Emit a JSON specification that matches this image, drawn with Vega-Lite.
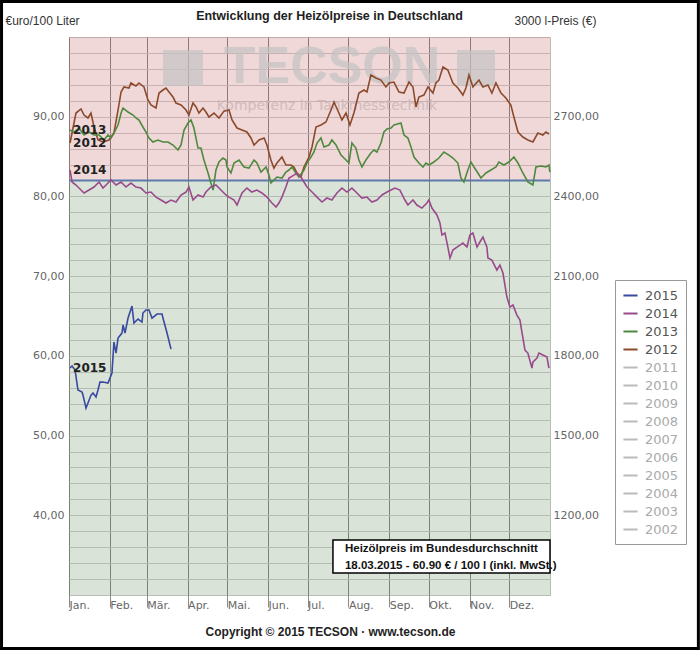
{
  "$schema": "https://vega.github.io/schema/vega-lite/v6.json",
  "width": 481,
  "height": 558,
  "autosize": {"type": "none"},
  "padding": {"left": 69, "top": 37, "right": 150, "bottom": 55},
  "background": "#ffffff",
  "config": {
    "view": {"stroke": "#bbbbbb", "strokeWidth": 1},
    "axis": {"labelFont": "DejaVu Sans", "labelFontSize": 11, "labelColor": "#666666", "domain": false}
  },
  "title": {
    "text": "Entwicklung der Heizölpreise in Deutschland",
    "font": "Liberation Sans", "fontSize": 12.5, "fontWeight": "bold", "color": "#222222",
    "anchor": "middle", "frame": "group", "dx": 20, "offset": -22
  },
  "datasets": {
    "one": [{}],
    "lines": [
      {"year":"2012","day":0.8,"price":86.70},{"year":"2012","day":5.3,"price":90.46},{"year":"2012","day":9.1,"price":90.97},{"year":"2012","day":11.4,"price":90.21},{"year":"2012","day":14.4,"price":89.84},{"year":"2012","day":16.7,"price":90.46},{"year":"2012","day":19.0,"price":88.71},{"year":"2012","day":22.0,"price":87.08},{"year":"2012","day":25.8,"price":86.83},{"year":"2012","day":30.3,"price":87.08},{"year":"2012","day":34.1,"price":87.95},{"year":"2012","day":37.2,"price":90.84},{"year":"2012","day":39.5,"price":93.10},{"year":"2012","day":41.7,"price":93.73},{"year":"2012","day":45.5,"price":93.60},{"year":"2012","day":47.0,"price":94.23},{"year":"2012","day":50.8,"price":93.85},{"year":"2012","day":53.1,"price":94.23},{"year":"2012","day":56.9,"price":93.73},{"year":"2012","day":59.9,"price":92.10},{"year":"2012","day":62.2,"price":91.47},{"year":"2012","day":66.0,"price":91.09},{"year":"2012","day":68.3,"price":92.97},{"year":"2012","day":71.3,"price":93.35},{"year":"2012","day":73.6,"price":93.60},{"year":"2012","day":75.9,"price":93.10},{"year":"2012","day":78.9,"price":92.47},{"year":"2012","day":81.2,"price":91.72},{"year":"2012","day":85.0,"price":91.47},{"year":"2012","day":88.8,"price":90.84},{"year":"2012","day":91.0,"price":90.21},{"year":"2012","day":94.1,"price":91.72},{"year":"2012","day":96.4,"price":91.22},{"year":"2012","day":98.6,"price":90.46},{"year":"2012","day":101.7,"price":91.09},{"year":"2012","day":103.9,"price":90.59},{"year":"2012","day":106.2,"price":89.96},{"year":"2012","day":110.0,"price":90.46},{"year":"2012","day":113.8,"price":89.84},{"year":"2012","day":117.6,"price":90.70},{"year":"2012","day":121.4,"price":90.84},{"year":"2012","day":123.7,"price":89.59},{"year":"2012","day":127.5,"price":88.58},{"year":"2012","day":131.3,"price":88.33},{"year":"2012","day":135.0,"price":88.08},{"year":"2012","day":138.1,"price":87.33},{"year":"2012","day":140.4,"price":86.45},{"year":"2012","day":144.2,"price":87.08},{"year":"2012","day":148.0,"price":87.33},{"year":"2012","day":150.2,"price":86.45},{"year":"2012","day":153.2,"price":84.57},{"year":"2012","day":155.5,"price":83.56},{"year":"2012","day":157.8,"price":84.19},{"year":"2012","day":161.6,"price":84.94},{"year":"2012","day":164.6,"price":83.94},{"year":"2012","day":168.4,"price":83.94},{"year":"2012","day":170.7,"price":83.69},{"year":"2012","day":173.0,"price":82.94},{"year":"2012","day":176.0,"price":82.43},{"year":"2012","day":178.3,"price":83.69},{"year":"2012","day":182.1,"price":84.94},{"year":"2012","day":184.4,"price":86.20},{"year":"2012","day":187.4,"price":88.71},{"year":"2012","day":191.2,"price":88.96},{"year":"2012","day":195.0,"price":89.33},{"year":"2012","day":198.8,"price":90.84},{"year":"2012","day":201.1,"price":91.84},{"year":"2012","day":204.8,"price":90.46},{"year":"2012","day":207.1,"price":89.59},{"year":"2012","day":210.2,"price":90.46},{"year":"2012","day":213.2,"price":88.96},{"year":"2012","day":216.2,"price":90.46},{"year":"2012","day":220.0,"price":92.97},{"year":"2012","day":223.8,"price":93.35},{"year":"2012","day":226.1,"price":93.10},{"year":"2012","day":229.1,"price":95.23},{"year":"2012","day":232.9,"price":94.86},{"year":"2012","day":236.7,"price":94.60},{"year":"2012","day":240.5,"price":93.73},{"year":"2012","day":242.8,"price":94.23},{"year":"2012","day":246.6,"price":94.35},{"year":"2012","day":250.4,"price":93.10},{"year":"2012","day":254.2,"price":92.97},{"year":"2012","day":258.0,"price":94.35},{"year":"2012","day":261.0,"price":93.73},{"year":"2012","day":263.3,"price":91.22},{"year":"2012","day":265.5,"price":92.47},{"year":"2012","day":269.3,"price":92.72},{"year":"2012","day":272.4,"price":93.73},{"year":"2012","day":276.2,"price":92.97},{"year":"2012","day":278.4,"price":94.23},{"year":"2012","day":280.7,"price":94.60},{"year":"2012","day":283.8,"price":96.24},{"year":"2012","day":287.5,"price":95.86},{"year":"2012","day":291.3,"price":94.23},{"year":"2012","day":295.1,"price":93.60},{"year":"2012","day":298.9,"price":92.72},{"year":"2012","day":301.2,"price":93.60},{"year":"2012","day":303.5,"price":95.23},{"year":"2012","day":306.5,"price":93.73},{"year":"2012","day":311.1,"price":94.60},{"year":"2012","day":314.1,"price":93.73},{"year":"2012","day":317.9,"price":93.98},{"year":"2012","day":320.9,"price":92.97},{"year":"2012","day":324.0,"price":94.23},{"year":"2012","day":327.8,"price":92.97},{"year":"2012","day":331.5,"price":92.35},{"year":"2012","day":335.3,"price":91.47},{"year":"2012","day":337.6,"price":89.96},{"year":"2012","day":340.7,"price":88.08},{"year":"2012","day":344.4,"price":87.45},{"year":"2012","day":348.2,"price":87.08},{"year":"2012","day":352.0,"price":86.83},{"year":"2012","day":355.8,"price":87.95},{"year":"2012","day":359.6,"price":87.70},{"year":"2012","day":361.9,"price":88.08},{"year":"2012","day":364.2,"price":87.83},
      {"year":"2013","day":0.8,"price":88.33},{"year":"2013","day":3.8,"price":88.08},{"year":"2013","day":7.6,"price":88.58},{"year":"2013","day":11.4,"price":87.70},{"year":"2013","day":15.2,"price":88.08},{"year":"2013","day":19.0,"price":87.70},{"year":"2013","day":22.8,"price":87.70},{"year":"2013","day":26.6,"price":87.08},{"year":"2013","day":29.6,"price":87.70},{"year":"2013","day":31.9,"price":87.33},{"year":"2013","day":34.1,"price":87.95},{"year":"2013","day":37.2,"price":88.96},{"year":"2013","day":39.5,"price":90.46},{"year":"2013","day":41.0,"price":91.09},{"year":"2013","day":44.8,"price":90.59},{"year":"2013","day":48.6,"price":90.21},{"year":"2013","day":50.8,"price":89.84},{"year":"2013","day":53.1,"price":89.59},{"year":"2013","day":56.1,"price":88.71},{"year":"2013","day":58.4,"price":88.08},{"year":"2013","day":60.7,"price":87.33},{"year":"2013","day":63.7,"price":86.83},{"year":"2013","day":67.5,"price":87.08},{"year":"2013","day":71.3,"price":86.83},{"year":"2013","day":75.1,"price":86.83},{"year":"2013","day":78.9,"price":86.45},{"year":"2013","day":82.7,"price":85.82},{"year":"2013","day":85.0,"price":86.45},{"year":"2013","day":87.3,"price":88.33},{"year":"2013","day":90.3,"price":89.21},{"year":"2013","day":92.6,"price":89.59},{"year":"2013","day":94.8,"price":88.58},{"year":"2013","day":97.9,"price":86.07},{"year":"2013","day":100.1,"price":86.07},{"year":"2013","day":102.4,"price":84.57},{"year":"2013","day":105.5,"price":82.94},{"year":"2013","day":107.7,"price":81.68},{"year":"2013","day":109.3,"price":80.80},{"year":"2013","day":111.5,"price":83.31},{"year":"2013","day":113.8,"price":84.32},{"year":"2013","day":116.8,"price":84.82},{"year":"2013","day":119.1,"price":84.57},{"year":"2013","day":119.9,"price":83.69},{"year":"2013","day":122.9,"price":82.94},{"year":"2013","day":125.2,"price":84.19},{"year":"2013","day":129.0,"price":84.57},{"year":"2013","day":132.8,"price":83.69},{"year":"2013","day":136.6,"price":83.56},{"year":"2013","day":140.4,"price":84.57},{"year":"2013","day":142.6,"price":84.19},{"year":"2013","day":145.7,"price":83.06},{"year":"2013","day":149.5,"price":83.69},{"year":"2013","day":151.7,"price":82.68},{"year":"2013","day":153.2,"price":81.68},{"year":"2013","day":155.5,"price":82.06},{"year":"2013","day":157.8,"price":82.43},{"year":"2013","day":161.6,"price":82.31},{"year":"2013","day":164.6,"price":83.06},{"year":"2013","day":166.9,"price":83.31},{"year":"2013","day":169.2,"price":83.69},{"year":"2013","day":172.2,"price":82.94},{"year":"2013","day":174.5,"price":82.43},{"year":"2013","day":178.3,"price":83.31},{"year":"2013","day":180.6,"price":84.19},{"year":"2013","day":183.6,"price":84.94},{"year":"2013","day":185.9,"price":85.57},{"year":"2013","day":188.2,"price":86.70},{"year":"2013","day":191.2,"price":87.33},{"year":"2013","day":193.5,"price":86.20},{"year":"2013","day":197.3,"price":86.45},{"year":"2013","day":199.5,"price":87.08},{"year":"2013","day":202.6,"price":86.45},{"year":"2013","day":206.4,"price":85.19},{"year":"2013","day":210.2,"price":84.57},{"year":"2013","day":212.4,"price":84.19},{"year":"2013","day":214.7,"price":86.70},{"year":"2013","day":217.7,"price":86.07},{"year":"2013","day":220.0,"price":84.57},{"year":"2013","day":222.3,"price":83.69},{"year":"2013","day":225.3,"price":84.57},{"year":"2013","day":229.1,"price":85.45},{"year":"2013","day":231.4,"price":85.82},{"year":"2013","day":233.7,"price":85.57},{"year":"2013","day":236.7,"price":86.70},{"year":"2013","day":239.0,"price":88.08},{"year":"2013","day":241.3,"price":88.46},{"year":"2013","day":244.3,"price":88.58},{"year":"2013","day":246.6,"price":88.96},{"year":"2013","day":251.9,"price":89.21},{"year":"2013","day":254.2,"price":87.70},{"year":"2013","day":257.2,"price":87.33},{"year":"2013","day":259.5,"price":86.20},{"year":"2013","day":261.8,"price":84.94},{"year":"2013","day":265.5,"price":84.19},{"year":"2013","day":268.6,"price":83.69},{"year":"2013","day":270.9,"price":84.19},{"year":"2013","day":273.1,"price":83.94},{"year":"2013","day":276.9,"price":84.32},{"year":"2013","day":280.7,"price":84.82},{"year":"2013","day":284.5,"price":85.57},{"year":"2013","day":288.3,"price":85.19},{"year":"2013","day":291.3,"price":84.82},{"year":"2013","day":295.1,"price":84.19},{"year":"2013","day":297.4,"price":82.31},{"year":"2013","day":299.7,"price":81.81},{"year":"2013","day":302.7,"price":83.31},{"year":"2013","day":305.0,"price":84.32},{"year":"2013","day":307.3,"price":83.69},{"year":"2013","day":310.3,"price":82.94},{"year":"2013","day":312.6,"price":82.31},{"year":"2013","day":316.4,"price":82.94},{"year":"2013","day":320.2,"price":83.31},{"year":"2013","day":324.0,"price":83.69},{"year":"2013","day":326.2,"price":84.32},{"year":"2013","day":330.0,"price":83.94},{"year":"2013","day":333.8,"price":84.32},{"year":"2013","day":337.6,"price":84.94},{"year":"2013","day":340.7,"price":84.19},{"year":"2013","day":344.4,"price":82.94},{"year":"2013","day":348.2,"price":81.81},{"year":"2013","day":352.0,"price":81.43},{"year":"2013","day":354.3,"price":83.69},{"year":"2013","day":358.1,"price":83.81},{"year":"2013","day":361.9,"price":83.69},{"year":"2013","day":364.2,"price":83.94},{"year":"2013","day":364.9,"price":83.06},
      {"year":"2014","day":0.8,"price":83.31},{"year":"2014","day":2.3,"price":81.81},{"year":"2014","day":5.3,"price":81.43},{"year":"2014","day":9.1,"price":80.80},{"year":"2014","day":11.4,"price":80.43},{"year":"2014","day":15.2,"price":80.80},{"year":"2014","day":19.0,"price":81.18},{"year":"2014","day":22.8,"price":81.81},{"year":"2014","day":25.8,"price":81.05},{"year":"2014","day":29.6,"price":81.68},{"year":"2014","day":31.9,"price":82.06},{"year":"2014","day":35.7,"price":81.43},{"year":"2014","day":39.5,"price":81.81},{"year":"2014","day":43.2,"price":81.18},{"year":"2014","day":47.0,"price":81.68},{"year":"2014","day":50.8,"price":81.18},{"year":"2014","day":54.6,"price":81.05},{"year":"2014","day":58.4,"price":80.43},{"year":"2014","day":62.2,"price":80.55},{"year":"2014","day":66.0,"price":79.92},{"year":"2014","day":69.8,"price":79.55},{"year":"2014","day":73.6,"price":79.17},{"year":"2014","day":77.4,"price":79.55},{"year":"2014","day":81.2,"price":79.30},{"year":"2014","day":85.0,"price":80.18},{"year":"2014","day":88.8,"price":80.55},{"year":"2014","day":91.0,"price":81.18},{"year":"2014","day":94.1,"price":79.55},{"year":"2014","day":97.9,"price":80.18},{"year":"2014","day":101.7,"price":79.92},{"year":"2014","day":103.9,"price":80.55},{"year":"2014","day":107.7,"price":81.18},{"year":"2014","day":111.5,"price":81.43},{"year":"2014","day":115.3,"price":80.80},{"year":"2014","day":119.1,"price":80.18},{"year":"2014","day":121.4,"price":79.92},{"year":"2014","day":125.2,"price":79.55},{"year":"2014","day":127.5,"price":78.92},{"year":"2014","day":131.3,"price":80.43},{"year":"2014","day":135.0,"price":81.05},{"year":"2014","day":138.8,"price":80.55},{"year":"2014","day":142.6,"price":80.80},{"year":"2014","day":146.4,"price":80.43},{"year":"2014","day":150.2,"price":79.92},{"year":"2014","day":154.0,"price":79.17},{"year":"2014","day":157.1,"price":78.67},{"year":"2014","day":159.3,"price":79.17},{"year":"2014","day":161.6,"price":79.92},{"year":"2014","day":164.6,"price":81.18},{"year":"2014","day":166.9,"price":82.31},{"year":"2014","day":170.7,"price":82.68},{"year":"2014","day":173.0,"price":82.94},{"year":"2014","day":176.0,"price":82.43},{"year":"2014","day":178.3,"price":81.81},{"year":"2014","day":180.6,"price":81.18},{"year":"2014","day":184.4,"price":80.55},{"year":"2014","day":188.2,"price":79.92},{"year":"2014","day":192.0,"price":79.30},{"year":"2014","day":195.7,"price":79.80},{"year":"2014","day":199.5,"price":79.55},{"year":"2014","day":203.3,"price":80.43},{"year":"2014","day":207.1,"price":81.05},{"year":"2014","day":210.9,"price":80.55},{"year":"2014","day":214.7,"price":81.05},{"year":"2014","day":218.5,"price":80.43},{"year":"2014","day":222.3,"price":79.80},{"year":"2014","day":226.1,"price":79.92},{"year":"2014","day":229.9,"price":79.30},{"year":"2014","day":233.7,"price":79.55},{"year":"2014","day":237.5,"price":80.18},{"year":"2014","day":241.3,"price":80.55},{"year":"2014","day":247.3,"price":81.05},{"year":"2014","day":251.1,"price":80.80},{"year":"2014","day":254.9,"price":79.55},{"year":"2014","day":257.2,"price":78.92},{"year":"2014","day":261.0,"price":79.55},{"year":"2014","day":264.0,"price":78.92},{"year":"2014","day":267.8,"price":78.54},{"year":"2014","day":271.6,"price":79.17},{"year":"2014","day":273.1,"price":79.55},{"year":"2014","day":275.4,"price":78.54},{"year":"2014","day":279.2,"price":77.67},{"year":"2014","day":281.5,"price":76.66},{"year":"2014","day":283.0,"price":75.16},{"year":"2014","day":285.3,"price":75.41},{"year":"2014","day":287.5,"price":73.65},{"year":"2014","day":289.1,"price":72.27},{"year":"2014","day":291.3,"price":73.27},{"year":"2014","day":294.4,"price":73.65},{"year":"2014","day":296.7,"price":73.90},{"year":"2014","day":298.9,"price":74.15},{"year":"2014","day":302.0,"price":73.65},{"year":"2014","day":304.2,"price":75.16},{"year":"2014","day":306.5,"price":75.41},{"year":"2014","day":309.6,"price":73.65},{"year":"2014","day":311.8,"price":74.28},{"year":"2014","day":314.1,"price":74.91},{"year":"2014","day":317.1,"price":73.65},{"year":"2014","day":317.9,"price":72.27},{"year":"2014","day":320.9,"price":72.02},{"year":"2014","day":324.7,"price":70.77},{"year":"2014","day":327.0,"price":71.39},{"year":"2014","day":329.3,"price":70.39},{"year":"2014","day":332.3,"price":67.38},{"year":"2014","day":334.6,"price":66.12},{"year":"2014","day":336.9,"price":66.37},{"year":"2014","day":339.9,"price":65.12},{"year":"2014","day":342.2,"price":64.49},{"year":"2014","day":343.7,"price":62.99},{"year":"2014","day":346.0,"price":60.73},{"year":"2014","day":348.2,"price":60.35},{"year":"2014","day":351.3,"price":58.47},{"year":"2014","day":352.0,"price":59.22},{"year":"2014","day":355.1,"price":59.72},{"year":"2014","day":356.6,"price":60.35},{"year":"2014","day":359.6,"price":60.10},{"year":"2014","day":362.7,"price":59.85},{"year":"2014","day":364.2,"price":58.47},
      {"year":"2015","day":0.8,"price":58.47},{"year":"2015","day":2.3,"price":58.72},{"year":"2015","day":4.6,"price":58.22},{"year":"2015","day":6.8,"price":55.71},{"year":"2015","day":9.9,"price":55.46},{"year":"2015","day":10.6,"price":55.08},{"year":"2015","day":12.9,"price":53.45},{"year":"2015","day":14.4,"price":54.08},{"year":"2015","day":16.7,"price":55.08},{"year":"2015","day":18.2,"price":55.33},{"year":"2015","day":20.5,"price":54.83},{"year":"2015","day":22.0,"price":55.71},{"year":"2015","day":23.5,"price":56.71},{"year":"2015","day":25.8,"price":56.71},{"year":"2015","day":29.6,"price":56.59},{"year":"2015","day":32.6,"price":57.84},{"year":"2015","day":34.1,"price":61.73},{"year":"2015","day":35.7,"price":60.35},{"year":"2015","day":37.2,"price":62.23},{"year":"2015","day":40.2,"price":62.86},{"year":"2015","day":41.0,"price":63.87},{"year":"2015","day":42.5,"price":62.86},{"year":"2015","day":44.8,"price":64.74},{"year":"2015","day":47.8,"price":66.25},{"year":"2015","day":49.3,"price":64.12},{"year":"2015","day":52.4,"price":64.62},{"year":"2015","day":55.4,"price":64.24},{"year":"2015","day":56.1,"price":65.37},{"year":"2015","day":58.4,"price":65.75},{"year":"2015","day":60.7,"price":65.75},{"year":"2015","day":63.0,"price":64.74},{"year":"2015","day":66.8,"price":65.25},{"year":"2015","day":70.6,"price":65.25},{"year":"2015","day":71.3,"price":64.74},{"year":"2015","day":74.4,"price":62.86},{"year":"2015","day":77.4,"price":60.85}
    ]
  },
  "layer": [
    {
      "layer": [
        {
          "data": {"name": "one"},
          "mark": {"type": "rect", "fill": "#d49090", "opacity": 0.35},
          "encoding": {
            "x": {"datum": 0, "type": "quantitative", "scale": {"domain": [0, 365], "nice": false, "zero": false}},
            "x2": {"datum": 365},
            "y": {"datum": 82, "type": "quantitative", "scale": {"domain": [30, 100], "nice": false, "zero": false}},
            "y2": {"datum": 100}
          }
        },
        {
          "data": {"name": "one"},
          "mark": {"type": "rect", "fill": "#92af90", "opacity": 0.35},
          "encoding": {
            "x": {"datum": 0, "type": "quantitative", "scale": {"domain": [0, 365], "nice": false, "zero": false}},
            "x2": {"datum": 365},
            "y": {"datum": 30, "type": "quantitative", "scale": {"domain": [30, 100], "nice": false, "zero": false}},
            "y2": {"datum": 82}
          }
        },
        {
          "data": {"name": "one"},
          "mark": {"type": "rect", "fill": "#c4c4c4", "opacity": 0.7},
          "encoding": {
            "x": {"datum": 71.3, "type": "quantitative", "scale": {"domain": [0, 365], "nice": false, "zero": false}},
            "x2": {"datum": 101.7},
            "y": {"datum": 98.37, "type": "quantitative", "scale": {"domain": [30, 100], "nice": false, "zero": false}},
            "y2": {"datum": 93.85}
          }
        },
        {
          "data": {"name": "one"},
          "mark": {"type": "rect", "fill": "#c4c4c4", "opacity": 0.7},
          "encoding": {
            "x": {"datum": 294.4, "type": "quantitative", "scale": {"domain": [0, 365], "nice": false, "zero": false}},
            "x2": {"datum": 323.3},
            "y": {"datum": 98.37, "type": "quantitative", "scale": {"domain": [30, 100], "nice": false, "zero": false}},
            "y2": {"datum": 93.85}
          }
        },
        {
          "data": {"name": "one"},
          "mark": {"type": "text", "text": "TECSON", "font": "Liberation Sans", "fontWeight": "bold", "fontSize": 52, "fill": "#c4c4c4", "opacity": 0.7, "align": "center", "baseline": "middle"},
          "encoding": {
            "x": {"datum": 199.6, "type": "quantitative", "scale": {"domain": [0, 365], "nice": false, "zero": false}},
            "y": {"datum": 96.2, "type": "quantitative", "scale": {"domain": [30, 100], "nice": false, "zero": false}}
          }
        },
        {
          "data": {"name": "one"},
          "mark": {"type": "text", "text": "Kompetenz in Tankmesstechnik", "font": "DejaVu Sans", "fontSize": 14, "fill": "#c9b3b3", "opacity": 0.8, "align": "center", "baseline": "middle"},
          "encoding": {
            "x": {"datum": 195.8, "type": "quantitative", "scale": {"domain": [0, 365], "nice": false, "zero": false}},
            "y": {"datum": 91.3, "type": "quantitative", "scale": {"domain": [30, 100], "nice": false, "zero": false}}
          }
        },
        {
          "data": {"name": "one"},
          "mark": {"type": "rule", "color": "#5b7aa9", "strokeWidth": 2},
          "encoding": {
            "y": {"datum": 82, "type": "quantitative", "scale": {"domain": [30, 100], "nice": false, "zero": false}}
          }
        },
        {
          "data": {"name": "lines"},
          "mark": {"type": "line", "strokeWidth": 1.6, "interpolate": "linear"},
          "encoding": {
            "x": {
              "field": "day", "type": "quantitative",
              "scale": {"domain": [0, 365], "nice": false, "zero": false},
              "axis": {
                "title": "Copyright © 2015 TECSON · www.tecson.de",
                "titleFont": "Liberation Sans", "titleFontSize": 12, "titleFontWeight": "bold", "titleColor": "#222222",
                "titleX": 261, "titleY": 36, "titleAlign": "center", "titleBaseline": "middle",
                "values": [0, 31, 59, 90, 120, 151, 181, 212, 243, 273, 304, 334],
                "tickCount": 100,
                "labelExpr": "['Jan.','Feb.','Mär.','Apr.','Mai.','Jun.','Jul.','Aug.','Sep.','Okt.','Nov.','Dez.'][indexof([0,31,59,90,120,151,181,212,243,273,304,334], datum.value)]",
                "labelAlign": "left", "labelBaseline": "top", "labelPadding": -8, "labelDx": 1,
                "ticks": true, "tickSize": 12, "tickColor": "#8a8a8a",
                "grid": true, "gridColor": "#6a6a6a", "gridWidth": 1,
                "labelColor": "#666666", "labelFontSize": 11
              }
            },
            "y": {
              "field": "price", "type": "quantitative",
              "scale": {"domain": [30, 100], "nice": false, "zero": false},
              "axis": {
                "title": "€uro/100 Liter",
                "titleFont": "Liberation Sans", "titleFontSize": 12, "titleFontWeight": "normal", "titleColor": "#333333",
                "titleAngle": 0, "titleX": -64, "titleY": -17, "titleAlign": "left", "titleBaseline": "middle",
                "values": [32, 34, 36, 38, 40, 42, 44, 46, 48, 50, 52, 54, 56, 58, 60, 62, 64, 66, 68, 70, 72, 74, 76, 78, 80, 82, 84, 86, 88, 90, 92, 94, 96, 98],
                "tickCount": 100,
                "labelOverlap": false,
                "labelExpr": "(datum.value % 10 === 0 && datum.value >= 40 && datum.value <= 90) ? replace(format(datum.value, '.2f'), '.', ',') : ''",
                "ticks": false, "labelPadding": 5,
                "grid": true, "gridColor": "#c4c4c4", "gridWidth": 1
              }
            },
            "color": {
              "field": "year", "type": "nominal",
              "scale": {
                "domain": ["2015", "2014", "2013", "2012", "2011", "2010", "2009", "2008", "2007", "2006", "2005", "2004", "2003", "2002"],
                "range": ["#3a4aa0", "#9a4a8c", "#4e8a3e", "#8c4a2c", "#bbbbbb", "#bbbbbb", "#bbbbbb", "#bbbbbb", "#bbbbbb", "#bbbbbb", "#bbbbbb", "#bbbbbb", "#bbbbbb", "#bbbbbb"]
              },
              "legend": {
                "orient": "none", "legendX": 546, "legendY": 243, "title": null,
                "symbolType": "stroke", "symbolSize": 200, "symbolStrokeWidth": 2,
                "labelFont": "DejaVu Sans", "labelFontSize": 13, "labelColor": "#555555", "labelOffset": 6,
                "rowPadding": 2, "padding": 7, "strokeColor": "#999999", "fillColor": "#ffffff",
                "encode": {"labels": {"update": {"fill": {"signal": "toNumber(datum.value) >= 2012 ? '#555555' : '#aaaaaa'"}}}}
              }
            },
            "detail": {"field": "year"}
          }
        },
        {
          "data": {"name": "lines"},
          "transform": [{"filter": "datum.day < 1"}],
          "mark": {"type": "text", "font": "DejaVu Sans", "fontWeight": "bold", "fontSize": 12, "fill": "#222222", "align": "left", "baseline": "middle", "dx": 3},
          "encoding": {
            "x": {"field": "day", "type": "quantitative", "scale": {"domain": [0, 365], "nice": false, "zero": false}},
            "y": {"field": "price", "type": "quantitative", "scale": {"domain": [30, 100], "nice": false, "zero": false}},
            "text": {"field": "year"}
          }
        },
        {
          "data": {"name": "one"},
          "mark": {"type": "rect", "fill": "#ffffff", "stroke": "#000000", "strokeWidth": 1.5},
          "encoding": {
            "x": {"datum": 200.3, "type": "quantitative", "scale": {"domain": [0, 365], "nice": false, "zero": false}},
            "x2": {"datum": 365},
            "y": {"datum": 36.9, "type": "quantitative", "scale": {"domain": [30, 100], "nice": false, "zero": false}},
            "y2": {"datum": 32.76}
          }
        },
        {
          "data": {"name": "one"},
          "mark": {"type": "text", "text": "Heizölpreis im Bundesdurchschnitt", "font": "Liberation Sans", "fontWeight": "bold", "fontSize": 11.5, "fill": "#111111", "align": "left", "baseline": "middle"},
          "encoding": {
            "x": {"datum": 209.4, "type": "quantitative", "scale": {"domain": [0, 365], "nice": false, "zero": false}},
            "y": {"datum": 35.77, "type": "quantitative", "scale": {"domain": [30, 100], "nice": false, "zero": false}}
          }
        },
        {
          "data": {"name": "one"},
          "mark": {"type": "text", "text": "18.03.2015 - 60.90 € / 100 l (inkl. MwSt.)", "font": "Liberation Sans", "fontWeight": "bold", "fontSize": 11.5, "fill": "#111111", "align": "left", "baseline": "middle"},
          "encoding": {
            "x": {"datum": 209.4, "type": "quantitative", "scale": {"domain": [0, 365], "nice": false, "zero": false}},
            "y": {"datum": 33.64, "type": "quantitative", "scale": {"domain": [30, 100], "nice": false, "zero": false}}
          }
        },
        {
          "data": {"name": "one"},
          "mark": {"type": "rect", "fillOpacity": 0, "stroke": "#000000", "strokeWidth": 3},
          "encoding": {
            "x": {"datum": -51.2, "type": "quantitative", "scale": {"domain": [0, 365], "nice": false, "zero": false}},
            "x2": {"datum": 477.6},
            "y": {"datum": 104.45, "type": "quantitative", "scale": {"domain": [30, 100], "nice": false, "zero": false}},
            "y2": {"datum": 23.28}
          }
        }
      ]
    },
    {
      "data": {"name": "one"},
      "mark": {"type": "point", "opacity": 0},
      "encoding": {
        "y": {
          "datum": 1800, "type": "quantitative",
          "scale": {"domain": [900, 3000], "nice": false, "zero": false},
          "axis": {
            "orient": "right",
            "title": "3000 l-Preis (€)",
            "titleFont": "Liberation Sans", "titleFontSize": 12, "titleFontWeight": "normal", "titleColor": "#333333",
            "titleAngle": 0, "titleX": -36, "titleY": -17, "titleAlign": "left", "titleBaseline": "middle",
            "values": [1200, 1500, 1800, 2100, 2400, 2700],
            "tickCount": 100,
            "labelExpr": "replace(format(datum.value, '.2f'), '.', ',')",
            "ticks": false, "grid": false, "labelPadding": 3
          }
        }
      }
    }
  ],
  "resolve": {"scale": {"y": "independent"}}
}
